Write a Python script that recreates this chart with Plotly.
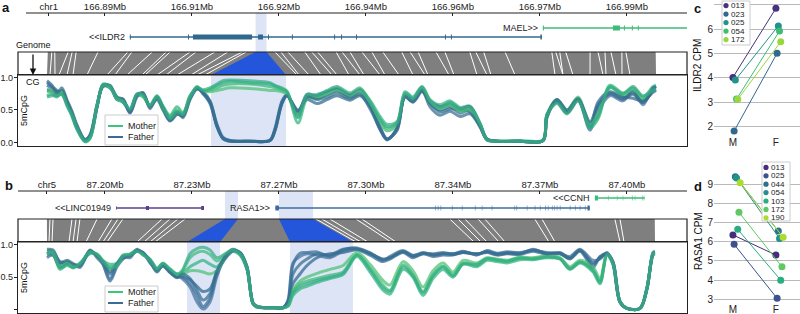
import plotly.graph_objects as go

W, H = 800, 314
FONT = "Liberation Sans, Arial, sans-serif"
INK = "#222222"

# ======================= DATA =======================
# ---- panel a : genomic axis (Mb) ----
a_view_mb = [166.8700, 167.0046]
a_ticks_mb = [166.8762, 166.8875, 166.9050, 166.9225, 166.9400, 166.9575, 166.9750, 166.9925]
a_ticks_lab = ["chr1", "166.89Mb", "166.91Mb", "166.92Mb", "166.94Mb", "166.96Mb", "166.97Mb", "166.99Mb"]

ildr2_span = [166.8925, 166.9754]
ildr2_exons = [(166.8925, 166.8927), (166.9042, 166.9044), (166.9052, 166.9171), (166.9183, 166.9193),
               (166.9203, 166.9205), (166.9251, 166.9253), (166.9336, 166.9338), (166.9350, 166.9352),
               (166.9380, 166.9382), (166.9559, 166.9561), (166.9571, 166.9573), (166.9751, 166.9754)]
mael_span = [166.9756, 167.0046]
mael_exons = [(166.9756, 166.9758), (166.9897, 166.9911), (166.9919, 166.9921), (166.9935, 166.9937),
              (166.9947, 166.9949)]

a_gray_mb = [166.8760, 166.9983]
a_gray_cg = [0, 609]
a_dmr_mb = [166.9178, 166.9200]
a_dmr_cg = [164, 239]
a_gap_mb = [166.8768, 166.8774, 166.8801, 166.8809, 166.8817, 166.8861, 166.8921, 166.8929, 166.8970, 166.8998,
            166.9006, 166.9046, 166.9058, 166.9096, 166.9122, 166.9151, 166.9159, 166.9217, 166.9229, 166.9243,
            166.9277, 166.9291, 166.9303, 166.9340, 166.9352, 166.9368, 166.9392, 166.9412, 166.9434, 166.9472,
            166.9489, 166.9505, 166.9541, 166.9559, 166.9609, 166.9621, 166.9637, 166.9680, 166.9774, 166.9782,
            166.9790, 166.9802, 166.9851, 166.9867, 166.9881, 166.9893, 166.9915, 166.9923]
a_gap_cg = [3, 8, 12, 20, 26, 40, 60, 68, 80, 95, 98, 110, 119, 130, 144, 150, 158, 250, 252, 262,
            274, 285, 290, 302, 313, 317, 333, 338, 352, 366, 378, 381, 402, 407, 430, 440, 444, 468, 508, 516,
            516, 526, 543, 556, 559, 569, 575, 583]

a_view_cg = [-29, 640]
a_cg = [0, 5, 10, 15, 20, 25, 30, 38, 43, 50, 56, 63, 70, 76, 83, 90, 96, 103, 110, 116, 123, 130, 136, 143,
        150, 156, 163, 170, 176, 183, 203, 223, 228, 235, 240, 251, 260, 270, 280, 290, 303, 313, 323, 333,
        340, 350, 358, 366, 375, 383, 393, 403, 413, 423, 433, 440, 450, 473, 496, 500, 510, 520, 531, 543,
        551, 563, 576, 586, 596, 606, 609]
a_father = [
    [0.88, 0.83, 0.78, 0.78, 0.62, 0.45, 0.25, 0.04, 0.10, 0.56, 0.88, 0.86, 0.68, 0.65, 0.47, 0.72, 0.75, 0.54,
     0.68, 0.52, 0.35, 0.45, 0.40, 0.68, 0.84, 0.77, 0.62, 0.26, 0.07, 0.03, 0.02, 0.03, 0.20, 0.62, 0.73, 0.47,
     0.71, 0.68, 0.74, 0.80, 0.71, 0.78, 0.58, 0.22, 0.05, 0.20, 0.71, 0.64, 0.81, 0.60, 0.50, 0.55, 0.45, 0.50,
     0.26, 0.05, 0.02, 0.02, 0.03, 0.40, 0.64, 0.47, 0.66, 0.19, 0.55, 0.74, 0.66, 0.74, 0.61, 0.80, 0.82],
    [0.92, 0.86, 0.80, 0.74, 0.60, 0.42, 0.22, 0.03, 0.08, 0.55, 0.89, 0.84, 0.70, 0.62, 0.50, 0.74, 0.73, 0.56,
     0.66, 0.50, 0.33, 0.43, 0.42, 0.70, 0.85, 0.75, 0.60, 0.24, 0.06, 0.02, 0.02, 0.03, 0.18, 0.60, 0.72, 0.50,
     0.66, 0.60, 0.66, 0.72, 0.65, 0.72, 0.55, 0.20, 0.04, 0.22, 0.70, 0.62, 0.78, 0.62, 0.47, 0.52, 0.50, 0.47,
     0.24, 0.04, 0.02, 0.02, 0.03, 0.38, 0.66, 0.50, 0.68, 0.23, 0.62, 0.78, 0.70, 0.68, 0.64, 0.77, 0.80],
    [0.80, 0.78, 0.72, 0.80, 0.65, 0.48, 0.27, 0.05, 0.12, 0.58, 0.86, 0.87, 0.66, 0.66, 0.45, 0.70, 0.77, 0.52,
     0.70, 0.54, 0.37, 0.47, 0.38, 0.66, 0.82, 0.78, 0.64, 0.28, 0.08, 0.03, 0.02, 0.04, 0.22, 0.64, 0.74, 0.44,
     0.74, 0.72, 0.78, 0.82, 0.73, 0.80, 0.60, 0.24, 0.06, 0.18, 0.72, 0.66, 0.82, 0.64, 0.55, 0.58, 0.52, 0.55,
     0.28, 0.06, 0.02, 0.02, 0.03, 0.42, 0.62, 0.45, 0.64, 0.28, 0.50, 0.72, 0.64, 0.80, 0.58, 0.84, 0.84],
    [0.95, 0.88, 0.76, 0.84, 0.64, 0.46, 0.24, 0.04, 0.11, 0.54, 0.87, 0.88, 0.69, 0.67, 0.46, 0.73, 0.76, 0.55,
     0.69, 0.53, 0.34, 0.46, 0.41, 0.67, 0.83, 0.76, 0.63, 0.25, 0.06, 0.02, 0.02, 0.03, 0.19, 0.61, 0.72, 0.48,
     0.70, 0.66, 0.70, 0.76, 0.68, 0.74, 0.52, 0.21, 0.05, 0.21, 0.71, 0.63, 0.80, 0.55, 0.42, 0.48, 0.40, 0.44,
     0.25, 0.05, 0.02, 0.02, 0.03, 0.41, 0.65, 0.48, 0.67, 0.32, 0.58, 0.76, 0.68, 0.76, 0.62, 0.82, 0.86],
]
a_mother = [
    [0.82, 0.80, 0.76, 0.80, 0.60, 0.44, 0.22, 0.02, 0.08, 0.58, 0.86, 0.84, 0.66, 0.62, 0.50, 0.74, 0.74, 0.56,
     0.70, 0.52, 0.40, 0.50, 0.44, 0.72, 0.82, 0.80, 0.80, 0.84, 0.88, 0.90, 0.90, 0.86, 0.84, 0.80, 0.76, 0.40,
     0.72, 0.70, 0.76, 0.82, 0.72, 0.80, 0.60, 0.30, 0.18, 0.26, 0.74, 0.66, 0.84, 0.62, 0.55, 0.60, 0.50, 0.52,
     0.28, 0.04, 0.02, 0.02, 0.03, 0.42, 0.66, 0.50, 0.68, 0.25, 0.42, 0.86, 0.72, 0.80, 0.66, 0.84, 0.86],
    [0.72, 0.74, 0.70, 0.76, 0.58, 0.40, 0.20, 0.01, 0.06, 0.54, 0.90, 0.86, 0.70, 0.66, 0.48, 0.72, 0.70, 0.58,
     0.72, 0.56, 0.42, 0.55, 0.46, 0.70, 0.86, 0.78, 0.82, 0.88, 0.92, 0.94, 0.92, 0.90, 0.87, 0.82, 0.78, 0.30,
     0.68, 0.74, 0.78, 0.84, 0.74, 0.82, 0.65, 0.40, 0.28, 0.32, 0.78, 0.70, 0.86, 0.66, 0.58, 0.64, 0.54, 0.56,
     0.30, 0.05, 0.02, 0.03, 0.04, 0.44, 0.62, 0.46, 0.66, 0.22, 0.36, 0.88, 0.76, 0.84, 0.70, 0.86, 0.88],
    [0.78, 0.78, 0.74, 0.78, 0.62, 0.46, 0.24, 0.03, 0.09, 0.57, 0.87, 0.85, 0.67, 0.63, 0.49, 0.73, 0.72, 0.55,
     0.69, 0.50, 0.38, 0.48, 0.42, 0.71, 0.84, 0.79, 0.78, 0.80, 0.82, 0.84, 0.83, 0.80, 0.80, 0.78, 0.74, 0.45,
     0.70, 0.68, 0.74, 0.80, 0.70, 0.79, 0.62, 0.34, 0.22, 0.28, 0.72, 0.65, 0.83, 0.64, 0.52, 0.57, 0.48, 0.50,
     0.27, 0.04, 0.02, 0.02, 0.03, 0.40, 0.64, 0.48, 0.70, 0.30, 0.45, 0.84, 0.74, 0.82, 0.68, 0.82, 0.84],
    [0.70, 0.72, 0.72, 0.74, 0.56, 0.42, 0.21, 0.02, 0.07, 0.55, 0.88, 0.87, 0.68, 0.64, 0.52, 0.75, 0.73, 0.57,
     0.71, 0.55, 0.36, 0.47, 0.43, 0.69, 0.85, 0.81, 0.84, 0.90, 0.95, 0.96, 0.95, 0.92, 0.88, 0.84, 0.79, 0.38,
     0.74, 0.72, 0.80, 0.86, 0.76, 0.84, 0.62, 0.36, 0.24, 0.30, 0.76, 0.68, 0.85, 0.63, 0.54, 0.62, 0.52, 0.54,
     0.29, 0.05, 0.02, 0.02, 0.03, 0.43, 0.60, 0.44, 0.64, 0.26, 0.40, 0.85, 0.75, 0.86, 0.72, 0.80, 0.82],
]

# ---- panel b ----
b_view_mb = [87.1660, 87.4275]
b_ticks_mb = [87.1773, 87.2000, 87.2340, 87.2680, 87.3020, 87.3360, 87.3700, 87.4040]
b_ticks_lab = ["chr5", "87.20Mb", "87.23Mb", "87.27Mb", "87.30Mb", "87.34Mb", "87.37Mb", "87.40Mb"]

linc_span = [87.2043, 87.2387]
linc_exons = [(87.2043, 87.2045), (87.2160, 87.2172), (87.2376, 87.2387)]
rasa1_span = [87.2666, 87.3895]
rasa1_exons = [(87.2666, 87.2680), (87.3290, 87.3292), (87.3301, 87.3303), (87.3312, 87.3314), (87.3356, 87.3358),
               (87.3395, 87.3397), (87.3446, 87.3448), (87.3473, 87.3475), (87.3512, 87.3514), (87.3601, 87.3603),
               (87.3609, 87.3611), (87.3649, 87.3651), (87.3680, 87.3682), (87.3700, 87.3702), (87.3720, 87.3722),
               (87.3731, 87.3733), (87.3747, 87.3749), (87.3755, 87.3757), (87.3766, 87.3768), (87.3778, 87.3780),
               (87.3817, 87.3819), (87.3837, 87.3839), (87.3856, 87.3858), (87.3876, 87.3878), (87.3886, 87.3895)]
ccnh_span = [87.3915, 87.4110]
ccnh_exons = [(87.3915, 87.3927), (87.3966, 87.3968), (87.4001, 87.4003), (87.4024, 87.4026), (87.4060, 87.4062),
              (87.4071, 87.4073), (87.4099, 87.4101), (87.4106, 87.4108)]

b_gray_mb = [87.1773, 87.4149]
b_gray_cg = [0, 608]
b_dmr_mb = [[87.2469, 87.2520], [87.2680, 87.2813]]
b_dmr_cg = [[140, 173], [243, 306]]
b_gap_mb = [87.1785, 87.1797, 87.1871, 87.1887, 87.1902, 87.1969, 87.2027, 87.2051, 87.2070, 87.2223, 87.2254,
            87.2285, 87.2313, 87.2825, 87.2848, 87.2879, 87.2981, 87.3004, 87.3348, 87.3380, 87.3407, 87.3458,
            87.3485, 87.3680, 87.3708, 87.3993, 87.4013]
b_gap_cg = [2, 5, 22, 26, 30, 39, 51, 56, 60, 90, 97, 103, 108, 309, 314, 321, 344, 349, 427, 434, 440, 452,
            458, 502, 508, 573, 577]

b_view_cg = [-29, 640]
b_cg = [0, 6, 13, 20, 26, 33, 43, 50, 56, 63, 70, 76, 83, 90, 96, 103, 110, 116, 123, 130, 135, 143, 150, 156,
        163, 170, 180, 186, 193, 200, 206, 210, 218, 228, 236, 241, 246, 253, 260, 270, 283, 296, 310, 323, 336,
        343, 356, 366, 376, 386, 396, 406, 416, 430, 440, 450, 460, 473, 486, 500, 513, 523, 533, 546, 553, 560,
        566, 573, 580, 593, 600, 606, 608]
b_father = [
    [0.90, 0.90, 0.70, 0.74, 0.69, 0.67, 0.90, 0.82, 0.72, 0.55, 0.69, 0.80, 0.82, 0.92, 0.87, 0.74, 0.59, 0.69,
     0.59, 0.51, 0.50, 0.40, 0.22, 0.05, 0.18, 0.55, 0.85, 0.92, 0.87, 0.64, 0.10, 0.05, 0.03, 0.03, 0.03, 0.13,
     0.69, 0.87, 0.88, 0.89, 0.82, 0.92, 0.95, 0.87, 0.77, 0.80, 0.90, 0.82, 0.87, 0.85, 0.87, 0.85, 0.89, 0.85,
     0.90, 0.86, 0.88, 0.87, 0.92, 0.87, 0.87, 0.80, 0.92, 0.72, 0.80, 0.87, 0.72, 0.12, 0.02, 0.02, 0.33, 0.87, 0.88],
    [0.86, 0.88, 0.74, 0.72, 0.67, 0.70, 0.88, 0.84, 0.70, 0.44, 0.66, 0.78, 0.84, 0.90, 0.88, 0.72, 0.62, 0.67,
     0.57, 0.50, 0.52, 0.46, 0.36, 0.28, 0.32, 0.58, 0.82, 0.90, 0.88, 0.66, 0.09, 0.04, 0.03, 0.03, 0.03, 0.10,
     0.40, 0.55, 0.68, 0.80, 0.86, 0.88, 0.92, 0.84, 0.74, 0.78, 0.88, 0.80, 0.86, 0.82, 0.84, 0.84, 0.88, 0.86,
     0.88, 0.84, 0.86, 0.85, 0.90, 0.85, 0.86, 0.78, 0.90, 0.65, 0.82, 0.86, 0.74, 0.13, 0.02, 0.02, 0.34, 0.84, 0.86],
    [0.80, 0.84, 0.66, 0.72, 0.70, 0.65, 0.92, 0.80, 0.70, 0.48, 0.70, 0.82, 0.80, 0.93, 0.86, 0.75, 0.58, 0.70,
     0.60, 0.52, 0.48, 0.35, 0.12, 0.01, 0.12, 0.52, 0.86, 0.93, 0.86, 0.62, 0.11, 0.05, 0.03, 0.03, 0.03, 0.15,
     0.72, 0.82, 0.86, 0.84, 0.80, 0.90, 0.93, 0.88, 0.76, 0.82, 0.91, 0.84, 0.86, 0.86, 0.88, 0.86, 0.90, 0.84,
     0.91, 0.87, 0.89, 0.88, 0.91, 0.88, 0.86, 0.82, 0.93, 0.76, 0.78, 0.88, 0.70, 0.11, 0.02, 0.02, 0.32, 0.88, 0.90],
    [0.93, 0.92, 0.72, 0.76, 0.71, 0.68, 0.91, 0.83, 0.74, 0.58, 0.71, 0.81, 0.83, 0.91, 0.88, 0.76, 0.60, 0.68,
     0.58, 0.49, 0.55, 0.48, 0.30, 0.15, 0.25, 0.60, 0.84, 0.91, 0.88, 0.66, 0.10, 0.05, 0.03, 0.03, 0.03, 0.12,
     0.55, 0.70, 0.78, 0.86, 0.84, 0.93, 0.94, 0.86, 0.78, 0.80, 0.89, 0.83, 0.88, 0.84, 0.86, 0.86, 0.88, 0.86,
     0.89, 0.85, 0.87, 0.86, 0.93, 0.86, 0.88, 0.79, 0.91, 0.70, 0.80, 0.86, 0.73, 0.12, 0.02, 0.02, 0.33, 0.86, 0.88],
]
b_mother = [
    [0.88, 0.86, 0.62, 0.70, 0.66, 0.70, 0.88, 0.84, 0.74, 0.66, 0.70, 0.82, 0.84, 0.90, 0.86, 0.76, 0.62, 0.70,
     0.62, 0.53, 0.58, 0.80, 0.88, 0.90, 0.85, 0.75, 0.87, 0.92, 0.86, 0.64, 0.10, 0.05, 0.03, 0.03, 0.03, 0.06,
     0.28, 0.40, 0.44, 0.48, 0.53, 0.58, 0.85, 0.64, 0.38, 0.30, 0.69, 0.54, 0.28, 0.54, 0.67, 0.54, 0.72, 0.68,
     0.78, 0.76, 0.74, 0.79, 0.79, 0.82, 0.79, 0.64, 0.74, 0.62, 0.42, 0.85, 0.72, 0.12, 0.02, 0.02, 0.33, 0.86, 0.87],
    [0.84, 0.84, 0.66, 0.72, 0.64, 0.72, 0.86, 0.86, 0.76, 0.70, 0.72, 0.84, 0.86, 0.92, 0.84, 0.78, 0.64, 0.72,
     0.60, 0.55, 0.56, 0.66, 0.72, 0.76, 0.70, 0.66, 0.86, 0.90, 0.84, 0.62, 0.09, 0.04, 0.03, 0.03, 0.03, 0.05,
     0.22, 0.32, 0.36, 0.42, 0.48, 0.54, 0.82, 0.58, 0.30, 0.24, 0.62, 0.50, 0.22, 0.48, 0.62, 0.50, 0.70, 0.66,
     0.76, 0.74, 0.72, 0.77, 0.77, 0.80, 0.78, 0.62, 0.72, 0.58, 0.40, 0.84, 0.70, 0.12, 0.02, 0.02, 0.33, 0.85, 0.86],
    [0.90, 0.88, 0.68, 0.74, 0.68, 0.69, 0.90, 0.83, 0.73, 0.62, 0.68, 0.81, 0.83, 0.91, 0.87, 0.75, 0.60, 0.69,
     0.61, 0.54, 0.54, 0.60, 0.60, 0.58, 0.55, 0.60, 0.84, 0.91, 0.87, 0.63, 0.10, 0.05, 0.03, 0.03, 0.03, 0.07,
     0.30, 0.44, 0.50, 0.56, 0.62, 0.68, 0.88, 0.70, 0.45, 0.38, 0.74, 0.60, 0.35, 0.60, 0.72, 0.58, 0.76, 0.72,
     0.80, 0.78, 0.76, 0.81, 0.80, 0.83, 0.80, 0.66, 0.76, 0.66, 0.48, 0.86, 0.73, 0.12, 0.02, 0.02, 0.32, 0.87, 0.88],
    [0.86, 0.90, 0.64, 0.68, 0.65, 0.71, 0.89, 0.85, 0.75, 0.64, 0.69, 0.83, 0.85, 0.90, 0.85, 0.77, 0.63, 0.71,
     0.63, 0.55, 0.60, 0.86, 0.94, 0.96, 0.92, 0.80, 0.88, 0.92, 0.86, 0.65, 0.10, 0.05, 0.03, 0.03, 0.03, 0.06,
     0.26, 0.36, 0.40, 0.45, 0.50, 0.56, 0.84, 0.62, 0.34, 0.28, 0.66, 0.52, 0.26, 0.52, 0.66, 0.52, 0.70, 0.70,
     0.79, 0.77, 0.75, 0.80, 0.78, 0.81, 0.78, 0.63, 0.73, 0.60, 0.44, 0.85, 0.71, 0.12, 0.02, 0.02, 0.33, 0.86, 0.87],
]

# ---- panels c / d : expression (CPM) ----
c_samples = ["013", "023", "025", "054", "172"]
c_mother = [4.02, 1.82, 3.91, 3.13, 3.12]
c_father = [6.85, 5.01, 6.13, 5.92, 5.48]
d_samples = ["013", "025", "044", "054", "103", "172", "190"]
d_mother = [6.36, 5.87, 9.40, 9.33, 6.65, 7.54, 9.08]
d_father = [5.31, 3.05, 6.56, 6.18, 4.00, 4.70, 6.24]
parents = ["M", "F"]

# ======================= STYLE =======================
c_colors = ["#46327e", "#31688e", "#1f948c", "#3dbc74", "#98d83e"]
d_colors = ["#472d7b", "#3b528b", "#2c728e", "#21918c", "#28ae80", "#5ec962", "#addc30"]
father_cols = ["#3b6c9a", "#2f6790", "#44739c", "#346f90"]
mother_cols = ["#3dbb78", "#2eb57f", "#4cc274", "#35ad84"]
GENE_BLUE = "#31688e"
GENE_GREEN = "#3dbb78"
GENE_PURPLE = "#5a3f92"
RASA_BLUE = "#3e6ca0"
BAND = "#dce4f6"
DMR_BLUE = "#2456dc"
GRAY = "#7f7f7f"


def fx(p):
    return p / W


def fy(p):
    return 1 - p / H


fig = go.Figure()


def cg_to_mb(cg, view_mb, view_cg):
    f = (cg - view_cg[0]) / (view_cg[1] - view_cg[0])
    return view_mb[0] + f * (view_mb[1] - view_mb[0])


def add_gene(xa, ya, span, exons, row, color, exon_w):
    fig.add_trace(go.Scatter(x=span, y=[row, row], mode="lines", line=dict(color=color, width=1.3),
                             xaxis=xa, yaxis=ya, hoverinfo="skip", showlegend=False))
    ex, ey = [], []
    for s, e in exons:
        ex += [s, e, None]
        ey += [row, row, None]
    fig.add_trace(go.Scatter(x=ex, y=ey, mode="lines", line=dict(color=color, width=exon_w),
                             xaxis=xa, yaxis=ya, hoverinfo="skip", showlegend=False))


def add_align(xa, ya, view_mb, view_cg, gray_mb, gray_cg, dmr_mb, dmr_cg, gap_mb, gap_cg):
    gx = [gray_mb[0], gray_mb[1], cg_to_mb(gray_cg[1], view_mb, view_cg), cg_to_mb(gray_cg[0], view_mb, view_cg),
          gray_mb[0]]
    fig.add_trace(go.Scatter(x=gx, y=[1, 1, 0, 0, 1], mode="lines", fill="toself", fillcolor=GRAY,
                             line=dict(width=0, color=GRAY), xaxis=xa, yaxis=ya, hoverinfo="skip", showlegend=False))
    lx, ly = [], []
    for t, b in zip(gap_mb, gap_cg):
        lx += [t, cg_to_mb(b, view_mb, view_cg), None]
        ly += [1, 0, None]
    fig.add_trace(go.Scatter(x=lx, y=ly, mode="lines", line=dict(color="white", width=1.0),
                             xaxis=xa, yaxis=ya, hoverinfo="skip", showlegend=False))
    for m, c in zip(dmr_mb, dmr_cg):
        tx = [m[0], m[1], cg_to_mb(c[1], view_mb, view_cg), cg_to_mb(c[0], view_mb, view_cg), m[0]]
        fig.add_trace(go.Scatter(x=tx, y=[1, 1, 0, 0, 1], mode="lines", fill="toself", fillcolor=DMR_BLUE,
                                 line=dict(width=0, color=DMR_BLUE), xaxis=xa, yaxis=ya, hoverinfo="skip",
                                 showlegend=False))


def add_meth(xa, ya, cg, fathers, mothers):
    for i in range(len(fathers)):
        fig.add_trace(go.Scatter(x=cg, y=fathers[i], mode="lines", line=dict(color=father_cols[i], width=3,
                                 shape="spline", smoothing=0.9), opacity=0.72, xaxis=xa, yaxis=ya,
                                 hoverinfo="skip", showlegend=False))
        fig.add_trace(go.Scatter(x=cg, y=mothers[i], mode="lines", line=dict(color=mother_cols[i], width=3,
                                 shape="spline", smoothing=0.9), opacity=0.72, xaxis=xa, yaxis=ya,
                                 hoverinfo="skip", showlegend=False))


def add_expr(xa, ya, samples, mvals, fvals, colors):
    for i in range(len(samples)):
        jit = i * 0.028
        fig.add_trace(go.Scatter(x=[0 + jit, 1 + jit], y=[mvals[i], fvals[i]], mode="lines+markers",
                                 line=dict(color=colors[i], width=1), marker=dict(color=colors[i], size=7),
                                 xaxis=xa, yaxis=ya, hoverinfo="skip", showlegend=False, name=samples[i]))


# ---- panel a ----
add_gene("x", "y", ildr2_span, ildr2_exons, 0, GENE_BLUE, 5)
add_gene("x", "y", mael_span, mael_exons, 1, GENE_GREEN, 5)
add_align("x", "y2", a_view_mb, a_view_cg, a_gray_mb, a_gray_cg, [a_dmr_mb], [a_dmr_cg], a_gap_mb, a_gap_cg)
add_meth("x3", "y3", a_cg, a_father, a_mother)
# ---- panel c ----
add_expr("x4", "y4", c_samples, c_mother, c_father, c_colors)
# ---- panel b ----
add_gene("x5", "y5", linc_span, linc_exons, 0, GENE_PURPLE, 4)
add_gene("x5", "y5", rasa1_span, rasa1_exons, 0, RASA_BLUE, 5)
add_gene("x5", "y5", ccnh_span, ccnh_exons, 1, GENE_GREEN, 5)
add_align("x5", "y6", b_view_mb, b_view_cg, b_gray_mb, b_gray_cg, b_dmr_mb, b_dmr_cg, b_gap_mb, b_gap_cg)
add_meth("x7", "y7", b_cg, b_father, b_mother)
# ---- panel d ----
add_expr("x8", "y8", d_samples, d_mother, d_father, d_colors)

tickfont = dict(family=FONT, size=9.5, color=INK)
genax = dict(side="top", ticks="inside", ticklen=3, tickcolor=INK, showline=False, showgrid=False,
             zeroline=False, tickfont=tickfont, domain=[fx(18), fx(687)])
methx = dict(domain=[fx(18), fx(687)], showline=True, mirror=True, linecolor=INK, linewidth=1.2,
             ticks="", showticklabels=False, showgrid=False, zeroline=False)
methy = dict(showline=True, mirror=True, linecolor=INK, linewidth=1.2, ticks="outside", ticklen=3,
             tickcolor=INK, tickvals=[0, 0.5, 1.0], ticktext=["0.0", "0.5", "1.0"],
             tickfont=dict(family=FONT, size=9, color=INK), ticklabelstandoff=-1,
             showgrid=False, zeroline=False)
exprx = dict(domain=[fx(714), 1.0], range=[-0.44, 1.56], tickvals=[0, 1], ticktext=parents, ticks="",
             showgrid=False, zeroline=False, showline=False, tickfont=dict(family=FONT, size=10, color=INK))
expry = dict(ticks="", showgrid=True, gridcolor="#b9b9b9", gridwidth=1.3, zeroline=False, showline=False,
             tickfont=dict(family=FONT, size=10, color=INK))

fig.update_layout(
    width=W, height=H, margin=dict(l=0, r=0, t=0, b=0), autosize=False,
    paper_bgcolor="white", plot_bgcolor="rgba(0,0,0,0)", template="none", hovermode=False,
    font=dict(family=FONT, size=9, color=INK), showlegend=False,
    xaxis=dict(genax, anchor="y", range=a_view_mb, tickvals=a_ticks_mb, ticktext=a_ticks_lab),
    yaxis=dict(domain=[fy(52), fy(13)], range=[-1.667, 2.667], visible=False, anchor="x"),
    yaxis2=dict(domain=[fy(75), fy(52)], range=[0, 1], visible=False, anchor="x"),
    xaxis3=dict(methx, anchor="y3", range=a_view_cg),
    yaxis3=dict(methy, domain=[fy(146), fy(75)], range=[-0.054, 1.038], anchor="x3"),
    xaxis4=dict(exprx, anchor="y4"),
    yaxis4=dict(expry, domain=[fy(135), 1.0], range=[1.66, 7.19], tickvals=[2, 3, 4, 5, 6, 7], anchor="x4"),
    xaxis5=dict(genax, anchor="y5", range=b_view_mb, tickvals=b_ticks_mb, ticktext=b_ticks_lab),
    yaxis5=dict(domain=[fy(219), fy(191)], range=[-1.1, 1.7], visible=False, anchor="x5"),
    yaxis6=dict(domain=[fy(242), fy(219)], range=[0, 1], visible=False, anchor="x5"),
    xaxis7=dict(methx, anchor="y7", range=b_view_cg),
    yaxis7=dict(methy, domain=[fy(313), fy(242)], range=[-0.051, 1.042], anchor="x7"),
    xaxis8=dict(exprx, anchor="y8"),
    yaxis8=dict(expry, domain=[fy(302), fy(160)], range=[2.86, 10.27], tickvals=[3, 4, 5, 6, 7, 8, 9],
                anchor="x8"),
)

shapes = []
annos = []

# highlight bands (genes and methylation)
shapes.append(dict(type="rect", xref="x", yref="y domain", x0=a_dmr_mb[0], x1=a_dmr_mb[1], y0=0, y1=1,
                   fillcolor=BAND, line=dict(width=0), layer="below"))
shapes.append(dict(type="rect", xref="x3", yref="y3 domain", x0=a_dmr_cg[0], x1=a_dmr_cg[1], y0=0, y1=1,
                   fillcolor=BAND, line=dict(width=0), layer="below"))
for m, c in zip(b_dmr_mb, b_dmr_cg):
    shapes.append(dict(type="rect", xref="x5", yref="y5 domain", x0=m[0], x1=m[1], y0=0, y1=1,
                       fillcolor=BAND, line=dict(width=0), layer="below"))
    shapes.append(dict(type="rect", xref="x7", yref="y7 domain", x0=c[0], x1=c[1], y0=0, y1=1,
                       fillcolor=BAND, line=dict(width=0), layer="below"))

# genomic axis lines and alignment boxes
shapes.append(dict(type="line", xref="paper", yref="paper", x0=fx(26), x1=fx(687), y0=fy(13), y1=fy(13),
                   line=dict(color=INK, width=1)))
shapes.append(dict(type="line", xref="paper", yref="paper", x0=fx(18), x1=fx(687), y0=fy(191), y1=fy(191),
                   line=dict(color=INK, width=1)))
for top, bot in [(52, 75), (219, 242)]:
    shapes.append(dict(type="rect", xref="paper", yref="paper", x0=fx(18), x1=fx(687), y0=fy(bot), y1=fy(top),
                       line=dict(color=INK, width=1.2), fillcolor="rgba(0,0,0,0)"))

# gene labels
for xa, ya, span, row, txt in [("x", "y", ildr2_span, 0, "<<ILDR2"), ("x", "y", mael_span, 1, "MAEL>>"),
                               ("x5", "y5", linc_span, 0, "<<LINC01949"), ("x5", "y5", rasa1_span, 0, "RASA1>>"),
                               ("x5", "y5", ccnh_span, 1, "<<CCNH")]:
    annos.append(dict(xref=xa, yref=ya, x=span[0], y=row, text=txt, showarrow=False, xanchor="right",
                      yanchor="middle", xshift=-3, font=dict(family=FONT, size=9, color=INK)))

# Mother / Father legends
for boxtop, boxbot, rows in [(115, 145, (126, 137)), (286, 312, (292, 303))]:
    shapes.append(dict(type="rect", xref="paper", yref="paper", x0=fx(105), x1=fx(158), y0=fy(boxbot),
                       y1=fy(boxtop), fillcolor="rgba(255,255,255,0.85)", line=dict(color="#cccccc", width=1)))
    for r, lab, col in zip(rows, ["Mother", "Father"], ["#3cc57c", "#3b6b9a"]):
        shapes.append(dict(type="line", xref="paper", yref="paper", x0=fx(108), x1=fx(123), y0=fy(r), y1=fy(r),
                           line=dict(color=col, width=2)))
        annos.append(dict(xref="paper", yref="paper", x=fx(127), y=fy(r), text=lab, showarrow=False,
                          xanchor="left", yanchor="middle", borderpad=0,
                          font=dict(family=FONT, size=9, color=INK)))

# sample legends for c and d
for (bx0, bx1, by0, by1, y0, dy, mx, samples, cols) in [
        (722, 750, 1, 45, 5.6, 8.5, 726, c_samples, c_colors),
        (762, 790, 162, 221, 167.4, 8.4, 766, d_samples, d_colors)]:
    shapes.append(dict(type="rect", xref="paper", yref="paper", x0=fx(bx0), x1=fx(bx1), y0=fy(by1), y1=fy(by0),
                       fillcolor="rgba(255,255,255,0.9)", line=dict(color="#cccccc", width=1)))
    for i, (s, col) in enumerate(zip(samples, cols)):
        yy = y0 + dy * i
        shapes.append(dict(type="circle", xref="paper", yref="paper", x0=fx(mx - 2.6), x1=fx(mx + 2.6),
                           y0=fy(yy + 2.6), y1=fy(yy - 2.6), fillcolor=col, line=dict(width=0)))
        annos.append(dict(xref="paper", yref="paper", x=fx(mx + 4), y=fy(yy), text=s, showarrow=False,
                          xanchor="left", yanchor="middle", borderpad=0,
                          font=dict(family=FONT, size=8, color=INK)))

# text labels
for x, y, t, size, ang in [(33, 45, "Genome", 9, 0), (33, 82, "CG", 9, 0), (24, 111, "5mCpG", 9, -90),
                           (24, 278, "5mCpG", 9, -90), (698, 66, "ILDR2 CPM", 10, -90),
                           (698, 241, "RASA1 CPM", 10, -90),
                           (6, 8, "<b>a</b>", 13, 0), (9, 185, "<b>b</b>", 13, 0),
                           (697, 9, "<b>c</b>", 13, 0), (698, 186, "<b>d</b>", 13, 0)]:
    annos.append(dict(xref="paper", yref="paper", x=fx(x), y=fy(y), text=t, showarrow=False, textangle=ang,
                      xanchor="center", yanchor="middle", font=dict(family=FONT, size=size, color="#111111")))

annos.append(dict(xref="paper", yref="paper", x=fx(33), y=fy(75), ax=0, ay=-22, text="", showarrow=True,
                  arrowhead=2, arrowsize=1, arrowwidth=1.3, arrowcolor="#111111"))

fig.update_layout(shapes=shapes, annotations=annos)
fig.write_html("out.html")
